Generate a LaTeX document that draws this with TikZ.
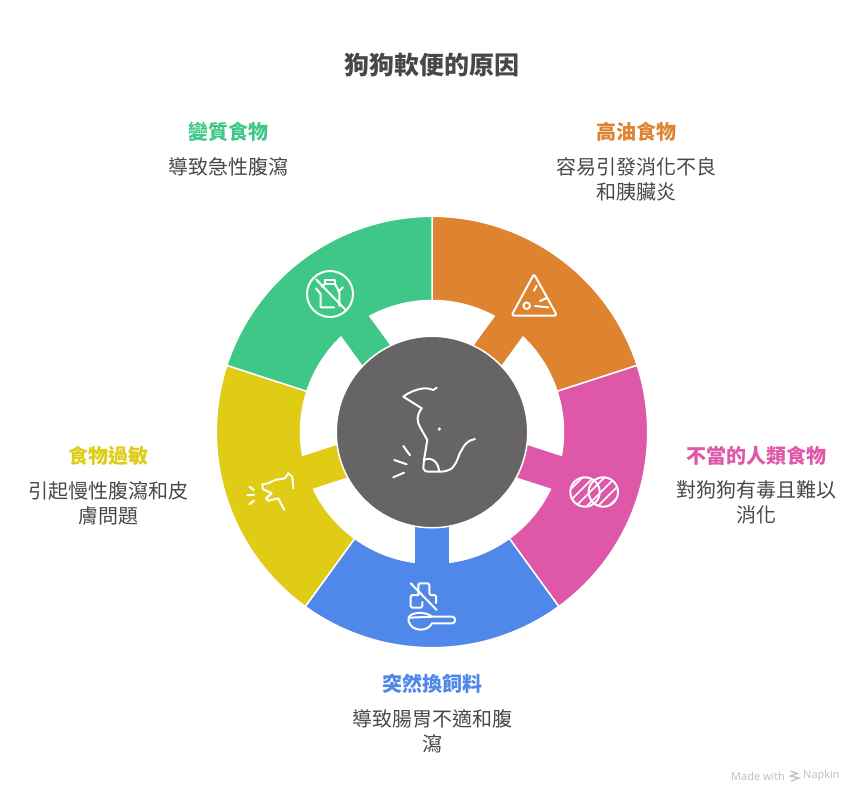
\documentclass[tikz,border=0pt]{standalone}
\usepackage{fontspec}
\usepackage{xcolor}
\usepackage{tikz}
\usetikzlibrary{positioning}
\setmainfont{Noto Sans CJK TC}
\newfontfamily\latinfont{Open Sans}
\definecolor{segorange}{HTML}{DE8431}
\definecolor{segpink}{HTML}{DF57A9}
\definecolor{segblue}{HTML}{4F88E8}
\definecolor{segyellow}{HTML}{E0CB15}
\definecolor{seggreen}{HTML}{3EC787}
\definecolor{hubgrey}{HTML}{666464}
\definecolor{bodytext}{HTML}{484848}
\definecolor{marktext}{HTML}{BDBDBD}

\begin{document}
\begin{tikzpicture}[x=1pt,y=-1pt,node distance=15pt,
    seg/.style={draw=white,line width=1.5pt},
    icon/.style={draw=white,line width=2pt,line cap=round,line join=round},
    head/.style={inner sep=0pt,font=\fontsize{20}{25}\selectfont\bfseries},
    body/.style={inner sep=0pt,align=center,text=bodytext,font=\fontsize{20}{25}\selectfont}]
   \useasboundingbox (0,0) rectangle (864,804);

   \begin{scope}[shift={(432,432)}]
    \path[seg,fill=segorange] (-90:215.7) arc[start angle=-90,end angle=-18,radius=215.7] -- (-18:131.5) arc[start angle=-18,end angle=-90,radius=131.5] -- cycle;
    \path[seg,fill=segpink] (-18:215.7) arc[start angle=-18,end angle=54,radius=215.7] -- (54:131.5) arc[start angle=54,end angle=-18,radius=131.5] -- cycle;
    \path[seg,fill=segblue] (54:215.7) arc[start angle=54,end angle=126,radius=215.7] -- (126:131.5) arc[start angle=126,end angle=54,radius=131.5] -- cycle;
    \path[seg,fill=segyellow] (126:215.7) arc[start angle=126,end angle=198,radius=215.7] -- (198:131.5) arc[start angle=198,end angle=126,radius=131.5] -- cycle;
    \path[seg,fill=seggreen] (198:215.7) arc[start angle=198,end angle=270,radius=215.7] -- (270:131.5) arc[start angle=270,end angle=198,radius=131.5] -- cycle;
    % stems to the hub
    \fill[segorange,rotate=54] (90,-17) rectangle (133,17);
    \fill[segpink,rotate=-18] (90,-17) rectangle (133,17);
    \fill[segblue,rotate=-90] (90,-17) rectangle (133,17);
    \fill[segyellow,rotate=198] (90,-17) rectangle (133,17);
    \fill[seggreen,rotate=126] (90,-17) rectangle (133,17);
   \end{scope}
   \node[circle,fill=hubgrey,draw=white,line width=1.5pt,inner sep=0pt,minimum size=191.5pt] (hub) at (432,432) {};

   % title and labels
   \node[inner sep=0pt,text=bodytext,font=\fontsize{25}{30}\selectfont\bfseries] (t_0) at (432,65) {狗狗軟便的原因};
   \node[head,text=seggreen] (h_1) at (228,132) {變質食物};
   \node[body] (b_1) [below =of h_1] {導致急性腹瀉};
   \node[head,text=segorange] (h_2) at (636,132) {高油食物};
   \node[body] (b_2) [below =of h_2] {容易引發消化不良\\和胰臟炎};
   \node[head,text=segpink] (h_3) at (756,456) {不當的人類食物};
   \node[body] (b_3) [below =of h_3] {對狗狗有毒且難以\\消化};
   \node[head,text=segblue] (h_4) at (432,684) {突然換飼料};
   \node[body] (b_4) [below =of h_4] {導致腸胃不適和腹\\瀉};
   \node[head,text=segyellow] (h_5) at (108,456) {食物過敏};
   \node[body] (b_5) [below =of h_5] {引起慢性腹瀉和皮\\膚問題};

   % hub dog
   \draw[icon] (436.7,387.7) -- (433.3,390) .. controls (428,388) and (424,388) .. (421.7,388.7) .. controls (414,390) and (408,393) .. (403.3,396.7) -- (421.7,408.3) .. controls (416,416) and (417,421) .. (420,427) -- (427.3,440) -- (424,460) -- (423.3,468.3) .. controls (424,471) and (426,471.7) .. (428.3,471.7) -- (441.7,471.7) .. controls (448,471) and (452,469) .. (453.3,466.7) .. controls (458,461) and (459,453) .. (461.7,450) .. controls (464,445) and (468,440) .. (475,439);
   \draw[icon] (424,460) .. controls (432,456) and (439,463) .. (439,471.7);
   \fill[white] (439.3,429) circle[radius=1.8];
   \draw[icon] (403.3,446) -- (410,455.3);
   \draw[icon] (394.3,460) -- (406.7,464.3);
   \draw[icon] (393.3,477.3) -- (404,472.7);

   % green icon, bottle
   \draw[icon] (330,294) circle[radius=23];
   \draw[icon] (316,279.3) -- (345,309.3);
   \draw[icon] (324.7,284) -- (324.7,280) -- (335,280) -- (335,284) -- cycle;
   \draw[icon] (316,288.3) -- (320.6,294) -- (320.6,307.3) -- (334,307.3);
   \draw[icon] (335,284) -- (339.3,292) -- (339.3,306);
   \draw[icon] (338.3,291.7) -- (343,287.3);
   \draw[icon] (324.7,284) -- (322,287);

   % orange icon, warning
   \draw[icon,rounded corners=2.5pt] (534,274) -- (557,315.5) -- (511.5,315.5) -- cycle;
   \draw[icon] (526.7,305.7) circle[radius=3.3];
   \draw[icon] (534,290.7) -- (536.7,285.7);
   \draw[icon] (540,301) -- (547.3,297.7);
   \draw[icon] (535,306) -- (548.3,307.3);

   % pink icon, hatched circles
   \draw[icon] (585,492) circle[radius=14.7];
   \draw[icon] (603.3,492) circle[radius=14.7];
   \begin{scope}
    \clip (585,492) circle[radius=14.7] (603.3,492) circle[radius=14.7];
    \foreach \k in {1060,1071,1082,1093,1104,1115,1126} {
      \draw[icon,line width=1.6pt] (\k-530,530) -- (\k-470,470);
    }
   \end{scope}

   % blue icon, scoop and blocks
   \draw[icon] (410.7,583.3) -- (436.7,610);
   \draw[icon,rounded corners=1.5pt] (418.3,595) -- (418.3,583.3) -- (429.3,583.3) -- (429.3,595) -- (436,595) -- (436,603);
   \draw[icon,rounded corners=1.5pt] (418.3,595) -- (410.7,595) -- (410.7,607.7) -- (422.3,607.7) -- (422.3,602);
   \draw[icon] (408.7,617.7) .. controls (410,612) and (426,611) .. (432,616.7) -- (452.5,616.7) .. controls (456,617) and (456,623) .. (452.5,623.3) -- (432,623.3) .. controls (428,632) and (412,632) .. (408.7,621.7) -- cycle;
   \draw[icon] (408.7,617.7) -- (432,616.7);

   % yellow icon, dog
   \draw[icon] (293.3,488.3) -- (292.3,476.7) -- (288.3,473.3) -- (285,478.3) -- (275,480) -- (268.3,483.3) -- (262.3,484.3) -- (262.7,489) -- (271.7,493.3) -- (266,498.3) -- (268.3,500.7) -- (278.3,498.3) -- (284.3,510);
   \draw[icon] (249.3,486.7) -- (254,490);
   \draw[icon] (247.3,495) -- (254,495);
   \draw[icon] (249.3,504.3) -- (254,500.7);

   % mark
   \node[inner sep=0pt,anchor=west,text=marktext,font=\latinfont\fontsize{11}{13}\selectfont] (m_1) at (731,776) {Made with};
   \node[inner sep=0pt,anchor=west,text=marktext,font=\latinfont\fontsize{11}{13}\selectfont] (m_2) at (803,776) {Napkin};
   \draw[marktext,line width=1.3pt] (790.5,771) -- (797,773.5) -- (790.5,776) -- (799,778) -- (791,781);
\end{tikzpicture}
\end{document}
